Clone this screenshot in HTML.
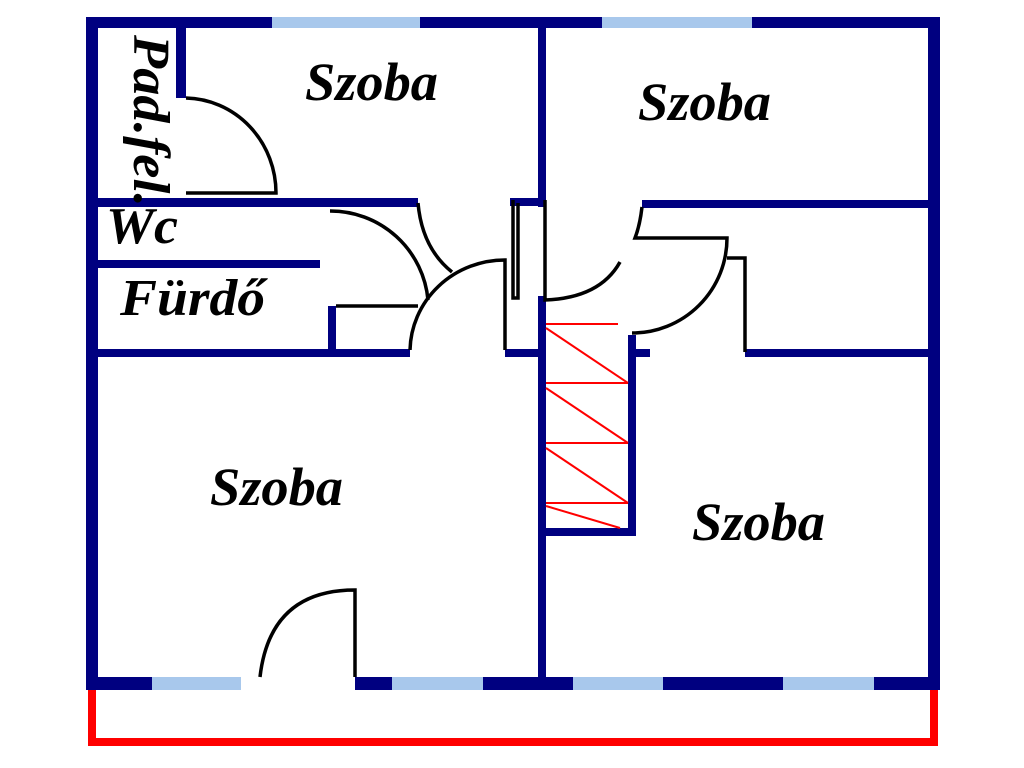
<!DOCTYPE html>
<html><head><style>html,body{margin:0;padding:0;background:#fff;width:1024px;height:768px;overflow:hidden}</style></head>
<body>
<svg width="1024" height="768" viewBox="0 0 1024 768" xmlns="http://www.w3.org/2000/svg">
<g fill="#000080">
<rect x="86" y="17" width="854" height="11"/>
<rect x="86" y="17" width="12" height="673"/>
<rect x="928" y="17" width="12" height="673"/>
<rect x="86" y="677" width="854" height="13"/>
<rect x="538" y="17" width="8" height="190"/>
<rect x="538" y="296" width="8" height="394"/>
<rect x="176" y="28" width="10" height="70"/>
<rect x="98" y="198" width="320" height="9"/>
<rect x="98" y="260" width="222" height="8"/>
<rect x="98" y="349" width="312" height="8"/>
<rect x="328" y="306" width="8" height="51"/>
<rect x="505" y="349" width="35" height="8"/>
<rect x="510" y="198" width="30" height="8"/>
<rect x="642" y="200" width="286" height="8"/>
<rect x="745" y="349" width="183" height="8"/>
<rect x="628" y="335" width="8" height="200"/>
<rect x="538" y="528" width="98" height="8"/>
<rect x="636" y="349" width="14" height="8"/>
</g>
<g fill="#a8c8ec">
<rect x="272" y="17" width="148" height="11"/>
<rect x="602" y="17" width="150" height="11"/>
<rect x="152" y="677" width="89" height="13"/>
<rect x="392" y="677" width="91" height="13"/>
<rect x="573" y="677" width="90" height="13"/>
<rect x="783" y="677" width="91" height="13"/>
</g>
<rect x="241" y="677" width="114" height="13" fill="#fff"/>
<path d="M92 690 V742 H934 V690" fill="none" stroke="#f00" stroke-width="8"/>
<g stroke="#f00" stroke-width="2" fill="none">
<line x1="546" y1="324" x2="618" y2="324"/>
<line x1="546" y1="328" x2="628" y2="383"/>
<line x1="546" y1="383" x2="628" y2="383"/>
<line x1="546" y1="388" x2="628" y2="443"/>
<line x1="546" y1="443" x2="628" y2="443"/>
<line x1="546" y1="448" x2="628" y2="503"/>
<line x1="546" y1="503" x2="628" y2="503"/>
<line x1="546" y1="506" x2="620" y2="528"/>
</g>
<g stroke="#000" stroke-width="3.5" fill="none">
<path d="M186 98 A92 95 0 0 1 276 193 H186"/>
<path d="M330 211 A98 98 0 0 1 428 300"/>
<path d="M418 203 Q422 248 452 272"/>
<path d="M410 350 A95 92 0 0 1 505 260 V350"/>
<path d="M336 306 H418"/>
<path d="M513 200 V298 H518 V203"/>
<path d="M545 200 V300 Q600 298 620 262"/>
<path d="M642 207 Q640 225 635 238 H727 A95 95 0 0 1 632 333"/>
<path d="M727 258 H745 V352"/>
<path d="M355 677 V590 Q270 590 260 677"/>
</g>
<g font-family="Liberation Serif, serif" font-weight="bold" font-style="italic" fill="#000">
<text x="305" y="100" font-size="54" textLength="133" lengthAdjust="spacingAndGlyphs">Szoba</text>
<text x="638" y="120" font-size="54" textLength="133" lengthAdjust="spacingAndGlyphs">Szoba</text>
<text x="210" y="505" font-size="54" textLength="133" lengthAdjust="spacingAndGlyphs">Szoba</text>
<text x="692" y="540" font-size="54" textLength="133" lengthAdjust="spacingAndGlyphs">Szoba</text>
<text x="106" y="243" font-size="52" textLength="72" lengthAdjust="spacingAndGlyphs">Wc</text>
<text x="120" y="315" font-size="52" textLength="145" lengthAdjust="spacingAndGlyphs">Fürdő</text>
<text transform="translate(134,35) rotate(90)" font-size="52" textLength="172" lengthAdjust="spacingAndGlyphs">Pad.fel.</text>
</g>
</svg>
</body></html>
